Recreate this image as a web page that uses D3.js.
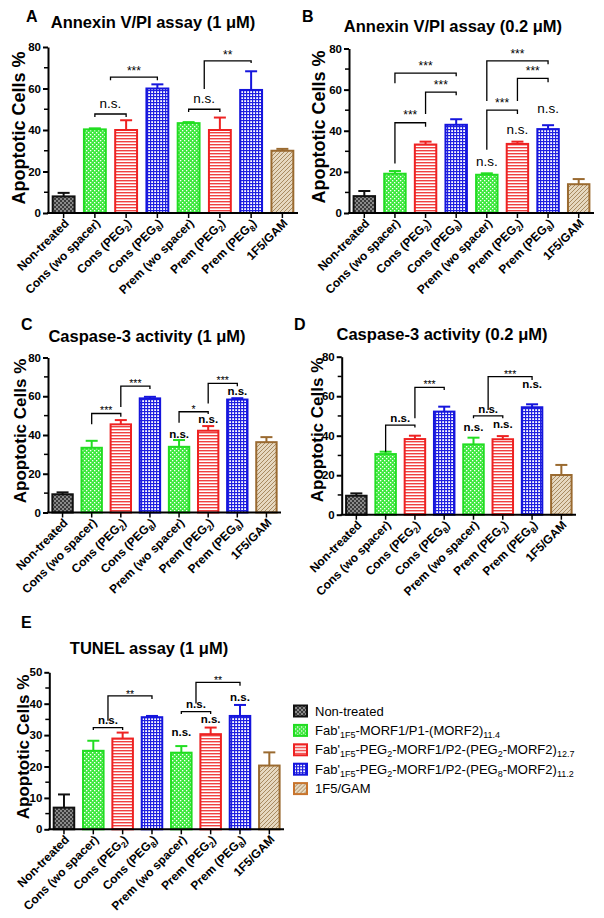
<!DOCTYPE html>
<html><head><meta charset="utf-8">
<script src="https://cdn.jsdelivr.net/npm/d3@7"></script>
<style>body{margin:0;background:#fff}svg{display:block;font-family:"Liberation Sans",Arial,sans-serif}</style>
</head><body><svg id="c" width="604" height="918"></svg>
<script>
// ---------- DATA ----------
const categories = ["Non-treated","Cons (wo spacer)","Cons (PEG2)","Cons (PEG8)","Prem (wo spacer)","Prem (PEG2)","Prem (PEG8)","1F5/GAM"];
const tickLabelParts = [
  [["Non-treated"]],
  [["Cons (wo spacer)"]],
  [["Cons (PEG"],["2",1],[")"]],
  [["Cons (PEG"],["8",1],[")"]],
  [["Prem (wo spacer)"]],
  [["Prem (PEG"],["2",1],[")"]],
  [["Prem (PEG"],["8",1],[")"]],
  [["1F5/GAM"]]
];
const seriesOf = ["ctrl","cons","peg2","peg8","cons","peg2","peg8","gam"];
const legendKeys = ["ctrl","cons","peg2","peg8","gam"];
const legendParts = [
  [["Non-treated"]],
  [["Fab'"],["1F5",1],["-MORF1/P1-(MORF2)"],["11.4",1]],
  [["Fab'"],["1F5",1],["-PEG"],["2",1],["-MORF1/P2-(PEG"],["2",1],["-MORF2)"],["12.7",1]],
  [["Fab'"],["1F5",1],["-PEG"],["2",1],["-MORF1/P2-(PEG"],["8",1],["-MORF2)"],["11.2",1]],
  [["1F5/GAM"]]
];

// Panel A: Annexin V/PI assay (1 uM)
const valuesA = [8, 40.3, 40, 60, 43.3, 40, 59.3, 30];
const errorsA = [1.7, 0.5, 4.7, 2, 0.5, 6, 9, 0.9];
const bracketsA = [
  {from:1, to:2, top:47.7, left:46.3, right:46.3, label:"n.s."},
  {from:1.5, to:3, top:65.5, left:64, right:64, label:"***"},
  {from:4, to:5, top:50, left:48.7, right:48.7, label:"n.s."},
  {from:4.5, to:6, top:73.3, left:59.8, right:72.3, label:"**"}
];
const nsLabelsA = [];

// Panel B: Annexin V/PI assay (0.2 uM)
const valuesB = [8.2, 19.1, 33.3, 42.9, 18.6, 33.6, 40.8, 14];
const errorsB = [2.5, 1.3, 1.4, 2.7, 0.7, 1.1, 1.9, 2.5];
const bracketsB = [
  {from:1, to:2, top:43.9, left:24.1, right:41.9, label:"***"},
  {from:2, to:3, top:58.8, left:48.2, right:57.3, label:"***"},
  {from:1, to:3, top:68, left:63.1, right:66.5, label:"***"},
  {from:4, to:6, top:74, left:54.5, right:72.3, label:"***"},
  {from:5, to:6, top:65.5, left:54.5, right:63.6, label:"***"},
  {from:4, to:5, top:50, left:30.8, right:48.2, label:"***"}
];
const nsLabelsB = [{at:4, level:24.6}, {at:5, level:40}, {at:6, level:50.6}];

// Panel C: Caspase-3 activity (1 uM)
const valuesC = [9.4, 33.4, 45.5, 58.9, 33.9, 42.2, 58.3, 36.3];
const errorsC = [1, 3.6, 2.2, 0.8, 3.5, 2.4, 0.7, 2.6];
const bracketsC = [
  {from:1, to:2, top:51.1, left:45.6, right:49.4, label:"***"},
  {from:2, to:3, top:65.2, left:54.5, right:63.7, label:"***"},
  {from:4, to:5, top:52, left:46.3, right:50.8, label:"*"},
  {from:5, to:6, top:66.6, left:56.3, right:65.2, label:"***"}
];
const nsLabelsC = [{at:4, level:40}, {at:5, level:47.7}, {at:6, level:62.3}];

// Panel D: Caspase-3 activity (0.2 uM)
const valuesD = [9.6, 30.7, 38.3, 52.2, 35.6, 38.2, 54.4, 20.1];
const errorsD = [1.2, 1.2, 1.7, 2.5, 3.4, 1.6, 1.5, 5.1];
const bracketsD = [
  {from:1, to:2, top:45.4, left:31.9, right:44.2, label:"n.s."},
  {from:2, to:3, top:64.5, left:48.8, right:63.1, label:"***"},
  {from:4, to:5, top:50, left:48.8, right:48.8, label:"n.s."},
  {from:4.5, to:6, top:69.9, left:53, right:68.2, label:"***"}
];
const nsLabelsD = [{at:4, level:43.7}, {at:5, level:45.4}, {at:6, level:65.7}];

// Panel E: TUNEL assay (1 uM)
const valuesE = [6.9, 25, 28.9, 35.7, 24.4, 30.3, 36.1, 20.3];
const errorsE = [4.2, 3.2, 1.9, 0.4, 2.1, 2.1, 3.5, 4.2];
const bracketsE = [
  {from:1, to:2, top:32.4, left:31.6, right:31.6, label:"n.s."},
  {from:1.5, to:3, top:42.5, left:34.6, right:41.5, label:"**"},
  {from:4, to:5, top:37.5, left:36.7, right:36.7, label:"n.s."},
  {from:4.5, to:6, top:46.8, left:40.1, right:45.7, label:"**"}
];
const nsLabelsE = [{at:4, level:30.6}, {at:5, level:34.8}, {at:6, level:42}];

// ---------- STYLES ----------
const strokeColor = {ctrl:"#111111", cons:"#22dd22", peg2:"#ee2222", peg8:"#1515dd", gam:"#9a6a30"};
const legendStroke = {ctrl:"#111111", cons:"#22dd22", peg2:"#ee2222", peg8:"#1515dd", gam:"#c8742c"};

const svg = d3.select("#c");
const defs = svg.append("defs");
function pat(id, w, h, bg, draw) {
  const p = defs.append("pattern").attr("id", id).attr("patternUnits","userSpaceOnUse").attr("width", w).attr("height", h);
  p.append("rect").attr("width", w).attr("height", h).attr("fill", bg);
  draw(p);
}
pat("p-ctrl", 4, 4, "#8a8a8a", p => {
  p.append("rect").attr("x",0).attr("y",0).attr("width",2).attr("height",2).attr("fill","#3a3a3a");
  p.append("rect").attr("x",2).attr("y",2).attr("width",2).attr("height",2).attr("fill","#3a3a3a");
});
pat("p-cons", 4, 4, "#3ee83e", p => {
  p.append("rect").attr("x",0).attr("y",0).attr("width",1.3).attr("height",1.3).attr("fill","#ffffff");
  p.append("rect").attr("x",2).attr("y",2).attr("width",1.3).attr("height",1.3).attr("fill","#ffffff");
});
pat("p-peg2", 4, 3, "#ffffff", p => {
  p.append("rect").attr("x",0).attr("y",0).attr("width",4).attr("height",1.4).attr("fill","#f04040");
});
pat("p-peg8", 3, 3, "#ffffff", p => {
  p.append("rect").attr("x",0).attr("y",0).attr("width",3).attr("height",1.2).attr("fill","#2020e0");
  p.append("rect").attr("x",0).attr("y",0).attr("width",1.2).attr("height",3).attr("fill","#2020e0");
});
pat("p-gam", 4, 4, "#e6d8c0", p => {
  p.append("path").attr("d","M0,4 L4,0 M-1,1 L1,-1 M3,5 L5,3").attr("stroke","#a88a60").attr("stroke-width",1);
});

// append text parts; subscripts shift down, following normal part shifts back
function addParts(textSel, parts, subSize, subShift) {
  let shifted = false;
  parts.forEach(pp => {
    const ts = textSel.append("tspan").text(pp[0]);
    if (pp[1]) {
      ts.attr("font-size", subSize);
      if (!shifted) { ts.attr("dy", subShift); shifted = true; }
    } else if (shifted) {
      ts.attr("dy", -subShift); shifted = false;
    }
  });
}

function drawPanel(cfg) {
  const g = svg.append("g");
  const x = d3.scaleBand().domain(categories).range([cfg.x0, cfg.x1]).paddingInner(0.3).paddingOuter(0.15);
  const y = d3.scaleLinear().domain([0, cfg.yMax]).range([cfg.base, cfg.top]);
  const bw = x.bandwidth();
  const xc = idx => { const i = Math.floor(idx), f = idx - i; return x(categories[i]) + bw/2 + f * x.step(); };

  g.append("text").attr("x", cfg.letterX).attr("y", cfg.letterY).attr("font-size", 16).attr("font-weight","bold").text(cfg.letter);
  g.append("text").attr("x", cfg.titleX).attr("y", cfg.titleY).attr("text-anchor","middle").attr("font-size", 16.5).attr("font-weight","bold").text(cfg.title);
  g.append("text").attr("transform", `translate(${cfg.ylabX},${cfg.ylabY}) rotate(-90)`).attr("text-anchor","middle")
    .attr("font-size", cfg.ylabSize).attr("font-weight","bold").text("Apoptotic Cells %");

  g.selectAll("rect.bar").data(cfg.values).join("rect").attr("class","bar")
    .attr("x", (d,i) => x(categories[i])).attr("width", bw)
    .attr("y", d => y(d)).attr("height", d => cfg.base - y(d))
    .attr("fill", (d,i) => `url(#p-${seriesOf[i]})`)
    .attr("stroke", (d,i) => strokeColor[seriesOf[i]]).attr("stroke-width", 2);
  const eb = g.selectAll("g.eb").data(cfg.values).join("g").attr("class","eb")
    .attr("stroke", (d,i) => strokeColor[seriesOf[i]]).attr("stroke-width", 2);
  eb.append("line").attr("x1",(d,i)=>xc(i)).attr("x2",(d,i)=>xc(i))
    .attr("y1", d => y(d)).attr("y2", (d,i) => y(d + cfg.errors[i]));
  eb.append("line").attr("x1",(d,i)=>xc(i)-6).attr("x2",(d,i)=>xc(i)+6)
    .attr("y1", (d,i) => y(d + cfg.errors[i])).attr("y2", (d,i) => y(d + cfg.errors[i]));

  const major = d3.range(0, cfg.yMax + 0.001, cfg.step);
  const minor = d3.range(cfg.step/2, cfg.yMax, cfg.step);
  const ya = g.append("g").attr("transform", `translate(${cfg.x0},0)`)
    .call(d3.axisLeft(y).tickValues(major).tickSize(5).tickSizeOuter(0).tickPadding(2));
  ya.select(".domain").attr("stroke-width", 2);
  ya.selectAll(".tick line").attr("stroke-width", 2);
  ya.selectAll(".tick text").attr("font-size", 11.5).attr("font-weight","bold").attr("font-family","Liberation Sans, Arial, sans-serif");
  ya.selectAll("line.minor").data(minor).join("line").attr("class","minor")
    .attr("x1",0).attr("x2",-4).attr("y1", d=>y(d)).attr("y2", d=>y(d)).attr("stroke","#000").attr("stroke-width",1.5);

  const xa = g.append("g").attr("transform", `translate(0,${cfg.base})`)
    .call(d3.axisBottom(x).tickSize(5).tickSizeOuter(0).tickFormat(""));
  xa.select(".domain").attr("stroke-width", 2).attr("d", `M${cfg.x0-1},0H${cfg.x1}`);
  xa.selectAll(".tick line").attr("stroke-width", 1.5);
  categories.forEach((c, i) => {
    const t = g.append("text").attr("text-anchor","end")
      .attr("transform", `translate(${x(c)+bw/2+6},${cfg.base+11}) rotate(-45)`)
      .attr("font-size", 12).attr("font-weight","bold");
    addParts(t, tickLabelParts[i], 8.5, 3);
  });

  cfg.brackets.forEach(b => {
    const xl = xc(b.from), xr = xc(b.to);
    g.append("path").attr("d", `M${xl},${y(b.left)}V${y(b.top)}H${xr}V${y(b.right)}`)
      .attr("fill","none").attr("stroke","#000").attr("stroke-width",1.3);
    const isStar = b.label.indexOf("*") >= 0;
    const st = isStar ? cfg.starStyle : cfg.nsStyle;
    const cy = y(b.top) - st.gap;
    g.append("text").attr("x", (xl+xr)/2).attr("y", cy + st.k * st.size).attr("text-anchor","middle")
      .attr("font-size", st.size).attr("font-weight", st.weight).text(b.label);
  });
  cfg.ns.forEach(n => {
    const st = cfg.nsStyle;
    g.append("text").attr("x", xc(n.at)).attr("y", y(n.level) + st.k * st.size).attr("text-anchor","middle")
      .attr("font-size", st.size).attr("font-weight", st.weight).text("n.s.");
  });
}

const nsBig = {size:13.5, weight:"normal", gap:10, k:0.27};
const nsSmall = {size:11.5, weight:"bold", gap:6.5, k:0.27};

drawPanel({letter:"A", title:"Annexin V/PI assay (1 \u03BCM)", values:valuesA, errors:errorsA, brackets:bracketsA, ns:nsLabelsA,
  yMax:80, step:20, x0:48, x1:298, base:213, top:47,
  letterX:26, letterY:22, titleX:153, titleY:28, ylabX:25, ylabY:128, ylabSize:18,
  starStyle:{size:12, weight:"normal", gap:9, k:0.56}, nsStyle:nsBig});
drawPanel({letter:"B", title:"Annexin V/PI assay (0.2 \u03BCM)", values:valuesB, errors:errorsB, brackets:bracketsB, ns:nsLabelsB,
  yMax:80, step:20, x0:349, x1:594, base:213, top:48.5,
  letterX:302, letterY:22, titleX:453, titleY:32, ylabX:325, ylabY:127, ylabSize:18,
  starStyle:{size:12, weight:"normal", gap:10, k:0.56}, nsStyle:nsBig});
drawPanel({letter:"C", title:"Caspase-3 activity (1 \u03BCM)", values:valuesC, errors:errorsC, brackets:bracketsC, ns:nsLabelsC,
  yMax:80, step:20, x0:48, x1:281, base:512.5, top:357.5,
  letterX:21, letterY:330, titleX:147, titleY:342, ylabX:26, ylabY:431, ylabSize:17,
  starStyle:{size:10.5, weight:"normal", gap:5, k:0.56}, nsStyle:nsSmall});
drawPanel({letter:"D", title:"Caspase-3 activity (0.2 \u03BCM)", values:valuesD, errors:errorsD, brackets:bracketsD, ns:nsLabelsD,
  yMax:80, step:20, x0:341.7, x1:576, base:514.7, top:356.7,
  letterX:294, letterY:330, titleX:442, titleY:340, ylabX:323, ylabY:430, ylabSize:17,
  starStyle:{size:10.5, weight:"normal", gap:5, k:0.56}, nsStyle:nsSmall});
drawPanel({letter:"E", title:"TUNEL assay (1 \u03BCM)", values:valuesE, errors:errorsE, brackets:bracketsE, ns:nsLabelsE,
  yMax:50, step:10, x0:49.3, x1:284, base:829.3, top:672.3,
  letterX:21, letterY:628, titleX:149, titleY:654, ylabX:29, ylabY:747, ylabSize:17,
  starStyle:{size:10.5, weight:"normal", gap:4, k:0.56}, nsStyle:nsSmall});

const lg = svg.append("g").attr("transform","translate(293,711)");
legendKeys.forEach((k, i) => {
  const row = lg.append("g").attr("transform", `translate(0,${i*19.4})`);
  row.append("rect").attr("x",1).attr("y",-5.5).attr("width",13).attr("height",11)
    .attr("fill", `url(#p-${k})`).attr("stroke", legendStroke[k]).attr("stroke-width",2);
  const t = row.append("text").attr("x",22).attr("y",4.6).attr("font-size",13);
  addParts(t, legendParts[i], 9, 3);
});
</script></body></html>
